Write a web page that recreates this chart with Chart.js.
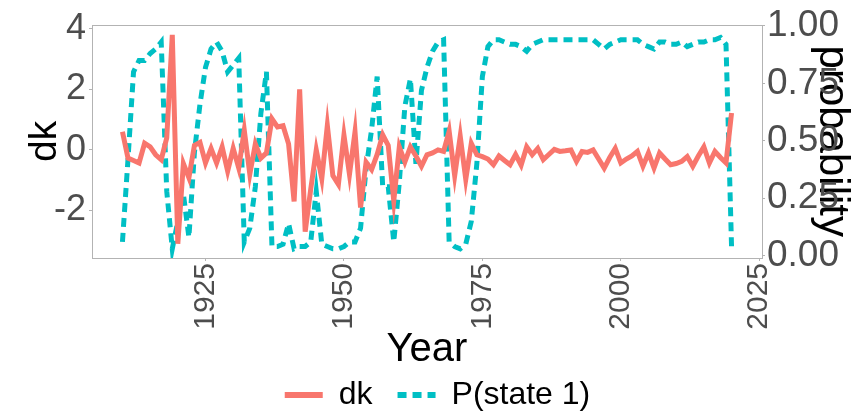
<!DOCTYPE html>
<html><head><meta charset="utf-8">
<script src="https://cdn.jsdelivr.net/npm/chart.js@4.4.1/dist/chart.umd.min.js"></script>
<style>html,body{margin:0;padding:0;background:#fff}#wrap{width:853px;height:411px}</style>
</head><body><div id="wrap"><canvas id="c" width="853" height="411"></canvas></div>
<script>
const years = [1910,1911,1912,1913,1914,1915,1916,1917,1918,1919,
1920,1921,1922,1923,1924,1925,1926,1927,1928,1929,
1930,1931,1932,1933,1934,1935,1936,1937,1938,1939,
1940,1941,1942,1943,1944,1945,1946,1947,1948,1949,
1950,1951,1952,1953,1954,1955,1956,1957,1958,1959,
1960,1961,1962,1963,1964,1965,1966,1967,1968,1969,
1970,1971,1972,1973,1974,1975,1976,1977,1978,1979,
1980,1981,1982,1983,1984,1985,1986,1987,1988,1989,
1990,1991,1992,1993,1994,1995,1996,1997,1998,1999,
2000,2001,2002,2003,2004,2005,2006,2007,2008,2009,
2010,2011,2012,2013,2014,2015,2016,2017,2018,2019,2020];

const dk = [0.6,-0.27,-0.35,-0.43,0.22,0.1,-0.16,-0.32,0.4,3.8,
-3.1,-0.45,-0.92,0.15,0.25,-0.43,0.05,-0.43,0.1,-0.7,
0.05,-0.6,0.65,-0.8,0.2,-0.27,-0.1,1.03,0.76,0.8,
0.2,-1.7,2.0,-2.7,-1.3,0.0,-0.95,0.81,-0.85,-1.14,
0.49,-0.81,0.6,-1.9,-0.4,-0.65,-0.15,0.5,0.15,-1.68,
0.1,-0.4,0.1,-0.2,-0.54,-0.16,-0.1,0.0,-0.05,0.62,
-0.85,0.45,-0.97,0.22,-0.16,-0.22,-0.3,-0.49,-0.2,-0.35,
-0.49,-0.15,-0.5,0.1,-0.16,0.05,-0.32,-0.15,0.02,-0.05,
-0.03,0.0,-0.38,-0.05,-0.08,0.0,-0.3,-0.6,-0.25,0.05,
-0.43,-0.3,-0.2,-0.05,-0.54,-0.1,-0.6,-0.1,-0.3,-0.49,
-0.45,-0.38,-0.22,-0.54,-0.2,0.1,-0.43,-0.05,-0.25,-0.43,1.22];

const pState1 = [0.06,0.42,0.8,0.85,0.85,0.88,0.9,0.93,0.28,0.03,
0.15,0.27,0.08,0.45,0.66,0.82,0.9,0.93,0.89,0.8,
0.83,0.86,0.06,0.12,0.3,0.62,0.8,0.04,0.04,0.05,
0.14,0.03,0.04,0.04,0.06,0.28,0.05,0.04,0.03,0.03,
0.04,0.06,0.06,0.12,0.38,0.55,0.78,0.3,0.3,0.06,
0.32,0.65,0.77,0.4,0.72,0.82,0.89,0.93,0.94,0.06,
0.04,0.03,0.05,0.15,0.4,0.78,0.91,0.94,0.94,0.93,
0.92,0.92,0.91,0.89,0.92,0.93,0.94,0.94,0.94,0.94,
0.94,0.94,0.94,0.94,0.94,0.94,0.92,0.9,0.92,0.93,
0.94,0.94,0.94,0.94,0.92,0.91,0.9,0.93,0.93,0.92,
0.92,0.93,0.91,0.92,0.93,0.93,0.94,0.94,0.95,0.92,0.04];

const xTicks = [1925,1950,1975,2000,2025];
const yLeftTicks = [-2,0,2,4];
const yRightTicks = [0,0.25,0.5,0.75,1];

const FONT = "'Liberation Sans', Arial, sans-serif";
const TICKCOL = '#4d4d4d';
const LINECOL = '#b3b3b3';
const LEGEND_FONT = 32, LEGEND_PAD = 25;
const LEGEND_H = LEGEND_FONT + LEGEND_PAD + 10;

const panelBorder = {
  id: 'panelBorder',
  beforeDatasetsDraw(chart) {
    const {ctx, chartArea: a} = chart;
    ctx.save();
    ctx.strokeStyle = LINECOL;
    ctx.lineWidth = 1;
    ctx.strokeRect(Math.round(a.left) + 0.5, Math.round(a.top) + 0.5, Math.round(a.right - a.left), Math.round(a.bottom - a.top));
    ctx.restore();
  }
};
const legendShift = {
  id: 'legendShift',
  afterLayout(chart) {
    const lg = chart.legend;
    if (!lg) return;
    const dx = 11, dy = 10;
    lg.left += dx; lg.right += dx; lg.top += dy; lg.bottom += dy;
  }
};

new Chart(document.getElementById('c'), {
  type: 'line',
  data: {
    datasets: [
      {
        label: 'dk',
        data: years.map((y, i) => ({x: y, y: dk[i]})),
        yAxisID: 'y',
        borderColor: '#F8766D',
        backgroundColor: '#F8766D',
        borderWidth: 5,
        pointRadius: 0,
        tension: 0,
        fill: false
      },
      {
        label: 'P(state 1)',
        data: years.map((y, i) => ({x: y, y: pState1[i]})),
        yAxisID: 'y1',
        borderColor: '#00BFC4',
        backgroundColor: '#00BFC4',
        borderWidth: 5,
        borderDash: [9, 6],
        pointRadius: 0,
        tension: 0,
        fill: false
      }
    ]
  },
  options: {
    responsive: false,
    animation: false,
    devicePixelRatio: 1,
    layout: {padding: {top: 21, left: 0, right: 0, bottom: 0}},
    plugins: {
      tooltip: {enabled: false},
      legend: {
        position: 'bottom',
        labels: {
          usePointStyle: true,
          pointStyle: 'line',
          pointStyleWidth: 38,
          boxHeight: 30,
          padding: LEGEND_PAD,
          color: '#000',
          font: {family: FONT, size: LEGEND_FONT},
          generateLabels(chart) {
            const items = Chart.defaults.plugins.legend.labels.generateLabels(chart);
            return items.map(it => {
              const ds = chart.data.datasets[it.datasetIndex];
              it.lineDash = ds.borderDash || [];
              it.lineWidth = 6;
              it.strokeStyle = ds.borderColor;
              it.pointStyle = 'line';
              return it;
            });
          }
        }
      }
    },
    scales: {
      x: {
        type: 'linear',
        min: 1904.5,
        max: 2025.5,
        afterBuildTicks: s => { s.ticks = xTicks.map(v => ({value: v})); },
        afterFit: s => { s.height = 411 - LEGEND_H - 258; },
        ticks: {
          autoSkip: false, minRotation: 90, maxRotation: 90,
          padding: 2, color: TICKCOL,
          font: {family: FONT, size: 30},
          callback: v => String(v)
        },
        grid: {display: true, drawOnChartArea: false, drawTicks: true, tickLength: 3, color: LINECOL},
        border: {display: false},
        title: {display: true, text: 'Year', color: '#000', font: {family: FONT, size: 40, lineHeight: 1}, padding: {top: 0, bottom: -26}}
      },
      y: {
        position: 'left',
        min: -3.57,
        max: 4.14,
        afterBuildTicks: s => { s.ticks = yLeftTicks.map(v => ({value: v})); },
        afterFit: s => { s.width = 92; },
        ticks: {padding: 3, color: TICKCOL, font: {family: FONT, size: 36}, callback: v => String(v)},
        grid: {display: true, drawOnChartArea: false, drawTicks: true, tickLength: 3, color: LINECOL},
        border: {display: false},
        title: {display: true, text: 'dk', color: '#000', font: {family: FONT, size: 39, lineHeight: 1}, padding: {top: 26, bottom: 0}}
      },
      y1: {
        position: 'right',
        min: -0.01,
        max: 1.006,
        afterBuildTicks: s => { s.ticks = yRightTicks.map(v => ({value: v})); },
        afterFit: s => { s.width = 91; },
        ticks: {padding: 2, color: TICKCOL, font: {family: FONT, size: 37}, callback: v => v.toFixed(2)},
        grid: {display: true, drawOnChartArea: false, drawTicks: true, tickLength: 3, color: LINECOL},
        border: {display: false},
        title: {display: true, text: 'probability', color: '#000', font: {family: FONT, size: 42, lineHeight: 1}, padding: {top: 0, bottom: 0}}
      }
    }
  },
  plugins: [panelBorder, legendShift]
});
</script>
</body></html>
